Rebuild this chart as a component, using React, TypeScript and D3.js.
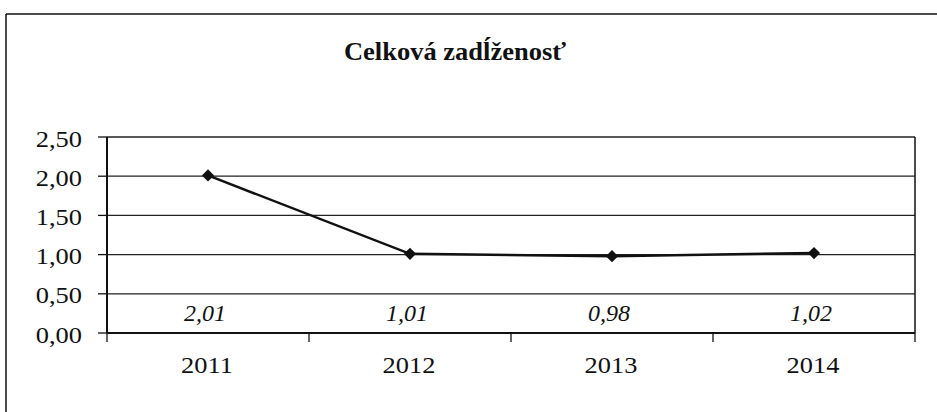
import React from "react";
import * as d3 from "d3";

const categories = ["2011", "2012", "2013", "2014"];
const values = [2.01, 1.01, 0.98, 1.02];
const yTicks = [0, 0.5, 1, 1.5, 2, 2.5];
const title = "Celková zadĺženosť";

const W = 937;
const H = 412;
const M = { left: 107, right: 915, top: 137, bottom: 333 };
const FONT = '"Liberation Serif"';

function T(props: {
  x: number;
  y: number;
  sx?: number;
  size: number;
  anchor?: "start" | "middle" | "end";
  bold?: boolean;
  italic?: boolean;
  children: React.ReactNode;
}) {
  const { x, y, sx = 1, size, anchor = "middle", bold, italic, children } = props;
  return (
    <g transform={`translate(${x},${y}) scale(${sx},1)`}>
      <text
        x={0}
        y={0}
        textAnchor={anchor}
        fontSize={size}
        fontWeight={bold ? "bold" : "normal"}
        fontStyle={italic ? "italic" : "normal"}
        fill="#111"
        style={{ fontFamily: FONT }}
      >
        {children}
      </text>
    </g>
  );
}

export default function App() {
  const x = d3.scaleBand<string>().domain(categories).range([M.left, M.right]).padding(0);
  const y = d3.scaleLinear().domain([0, 2.5]).range([M.bottom, M.top]);
  const fmt = (v: number) => v.toFixed(2).replace(".", ",");
  const cx = (c: string) => (x(c) ?? 0) + x.bandwidth() / 2;
  const line = d3
    .line<number>()
    .x((_, i) => cx(categories[i]))
    .y((d) => y(d));
  const diamond = d3.symbol().type(d3.symbolDiamond2).size(95)();
  const bounds = [...categories.map((c) => x(c) ?? 0), M.right];

  return (
    <svg width={W} height={H} style={{ position: "absolute", left: 0, top: 0, background: "#fff" }}>
      <rect x={0} y={0} width={W} height={H} fill="#fff" />
      {/* outer frame */}
      <line x1={6} y1={14} x2={W} y2={14} stroke="#111" strokeWidth={1.5} />
      <line x1={6} y1={14} x2={6} y2={H} stroke="#111" strokeWidth={1.5} />
      {/* title */}
      <T x={455} y={60} sx={1.06} size={25} bold>
        {title}
      </T>
      {/* gridlines */}
      {yTicks.map((t) => (
        <line key={t} x1={M.left} x2={M.right} y1={y(t)} y2={y(t)} stroke="#222" strokeWidth={1.3} />
      ))}
      {/* y tick marks + labels */}
      {yTicks.map((t) => (
        <g key={"yt" + t}>
          <line x1={M.left - 9} x2={M.left} y1={y(t)} y2={y(t)} stroke="#111" strokeWidth={1.3} />
          <T x={82} y={y(t) + 9.5} sx={1.15} size={23} anchor="end">
            {fmt(t)}
          </T>
        </g>
      ))}
      {/* axes */}
      <line x1={M.left} x2={M.left} y1={M.top} y2={M.bottom} stroke="#111" strokeWidth={2} />
      <line x1={M.right} x2={M.right} y1={M.top} y2={M.bottom} stroke="#111" strokeWidth={1.5} />
      <line x1={M.left} x2={M.right} y1={M.bottom} y2={M.bottom} stroke="#111" strokeWidth={1.8} />
      {bounds.map((b, i) => (
        <line key={"xt" + i} x1={b} x2={b} y1={M.bottom} y2={M.bottom + 9} stroke="#111" strokeWidth={1.3} />
      ))}
      {categories.map((c) => (
        <T key={"xl" + c} x={cx(c) - 1} y={373} sx={1.1} size={24}>
          {c}
        </T>
      ))}
      {/* series */}
      <path d={line(values) ?? ""} fill="none" stroke="#111" strokeWidth={2.5} />
      {values.map((v, i) => (
        <path key={"m" + i} d={diamond ?? ""} transform={`translate(${cx(categories[i])},${y(v)})`} fill="#111" />
      ))}
      {values.map((v, i) => (
        <T key={"dl" + i} x={cx(categories[i]) - 3} y={321} size={24} italic>
          {fmt(v)}
        </T>
      ))}
    </svg>
  );
}
